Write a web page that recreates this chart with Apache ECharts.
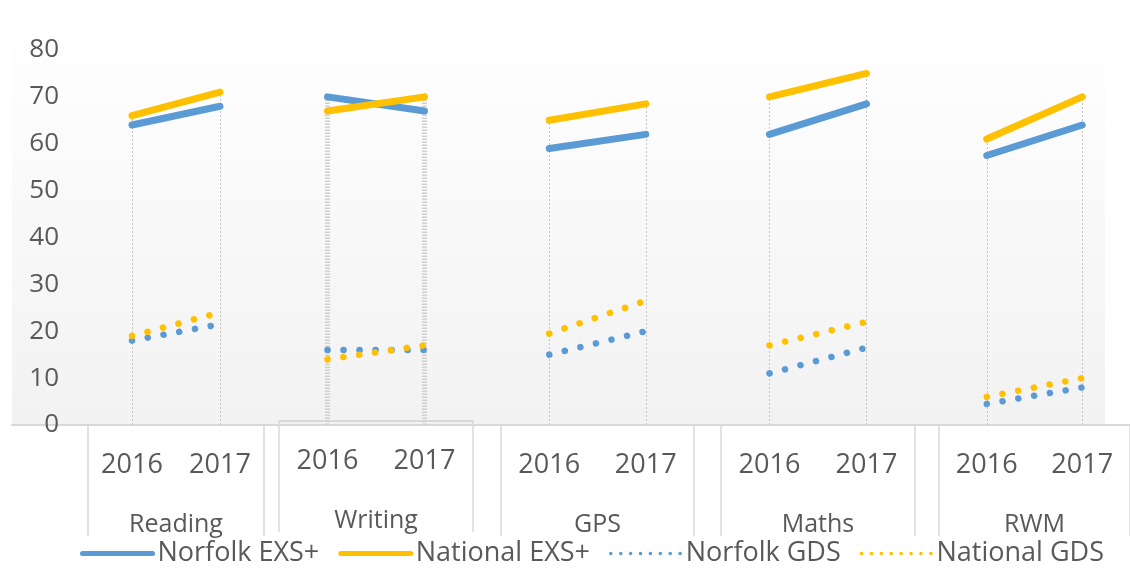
<!DOCTYPE html>
<html>
<head>
<meta charset="utf-8">
<style>
  html, body { margin: 0; padding: 0; background: #fff; }
  #main { width: 1130px; height: 568px; }
</style>
<script src="https://cdn.jsdelivr.net/npm/echarts@6/dist/echarts.min.js"></script>
</head>
<body>
<div id="main"></div>
<script>
// data
const subjects = ['Reading', 'Writing', 'GPS', 'Maths', 'RWM'];
const years = ['2016', '2017'];
const norfolkExs = [[64, 68], [70, 67], [59, 62], [62, 68.5], [57.5, 64]];
const nationalExs = [[66, 71], [67, 70], [65, 68.5], [70, 75], [61, 70]];
const norfolkGds = [[18, 21.5], [16, 16], [15, 20], [11, 16.5], [4.5, 8]];
const nationalGds = [[19, 24], [14, 17], [19.5, 26.5], [17, 22], [6, 10]];
const yMin = 0, yMax = 80, yStep = 10;

// layout of the five category boxes
const boxLeft = [88, 279, 501, 721, 939];
const boxWidth = [176, 194, 193, 194, 194];
const boxShift = [0, -4, 0, 0, 0];

const FONT = 'Open Sans';
const TEXT = '#595959';
const BLUE = '#5B9BD5';
const GOLD = '#FFC000';

const seriesDefs = [
  { name: 'Norfolk EXS+', values: norfolkExs, color: BLUE, dotted: false },
  { name: 'National EXS+', values: nationalExs, color: GOLD, dotted: false },
  { name: 'Norfolk GDS', values: norfolkGds, color: BLUE, dotted: true },
  { name: 'National GDS', values: nationalGds, color: GOLD, dotted: true }
];

const grids = [], xAxes = [], yAxes = [], series = [];

subjects.forEach((subject, g) => {
  grids.push({ left: boxLeft[g], width: boxWidth[g], top: 50, bottom: 143 });

  // year labels
  xAxes.push({
    type: 'category', gridIndex: g, position: 'bottom', data: years,
    boundaryGap: true, offset: boxShift[g],
    axisLine: { show: false }, axisTick: { show: false },
    axisLabel: { margin: 27, fontSize: 27, color: TEXT, fontFamily: FONT }
  });
  // subject label + box sides
  xAxes.push({
    type: 'category', gridIndex: g, position: 'bottom', data: [subject],
    boundaryGap: true, offset: boxShift[g],
    axisLine: { show: boxShift[g] !== 0, lineStyle: { color: '#d9d9d9', width: 2 } },
    axisTick: { show: true, length: 111, lineStyle: { color: '#d9d9d9', width: 1.5 } },
    axisLabel: { margin: 87, fontSize: 25, color: TEXT, fontFamily: FONT }
  });

  yAxes.push({
    type: 'value', gridIndex: g, min: yMin, max: yMax, interval: yStep,
    axisLine: { show: false }, axisTick: { show: false }, splitLine: { show: false },
    axisLabel: { show: g === 0, margin: 29, fontSize: 26, color: TEXT, fontFamily: FONT }
  });

  // drop lines from the highest value to the axis
  const drops = years.map((y, i) => {
    const top = Math.max(norfolkExs[g][i], nationalExs[g][i], norfolkGds[g][i], nationalGds[g][i]);
    return [{ coord: [y, yMin] }, { coord: [y, top] }];
  });
  const dropStyle = g === 1
    ? { color: '#cfcfcf', width: 5, type: [1.5, 1.5] }
    : { color: '#c4c4c4', width: 1, type: [2, 2] };

  seriesDefs.forEach((d, k) => {
    const s = {
      type: 'line', name: d.name, xAxisIndex: 2 * g, yAxisIndex: g,
      data: d.values[g], symbol: 'none', showSymbol: false, z: 3,
      itemStyle: { color: d.color },
      lineStyle: d.dotted
        ? { color: d.color, width: 6.5, type: [0.1, 15.9], cap: 'round' }
        : { color: d.color, width: 7, cap: 'round' },
      emphasis: { disabled: true }
    };
    if (k === 0) {
      s.markLine = {
        symbol: 'none', silent: true, z: 1, animation: false,
        label: { show: false }, lineStyle: dropStyle, data: drops
      };
    }
    series.push(s);
  });
});

// plot background
grids.push({
  left: 12, right: 25, top: 20, bottom: 143, show: true, borderWidth: 0,
  backgroundColor: new echarts.graphic.LinearGradient(0, 0, 0, 1, [
    { offset: 0, color: '#ffffff' },
    { offset: 1, color: '#f2f2f2' }
  ])
});
xAxes.push({ type: 'value', gridIndex: 5, show: false });
yAxes.push({ type: 'value', gridIndex: 5, show: false });

// horizontal axis line
grids.push({ left: 12, right: 0, top: 50, bottom: 143 });
xAxes.push({
  type: 'value', gridIndex: 6, min: 0, max: 1,
  axisLine: { show: true, lineStyle: { color: '#d9d9d9', width: 2 } },
  axisTick: { show: false }, axisLabel: { show: false }, splitLine: { show: false }
});
yAxes.push({ type: 'value', gridIndex: 6, min: 0, max: 1, show: false });

const chart = echarts.init(document.getElementById('main'));
chart.setOption({
  animation: false,
  grid: grids,
  xAxis: xAxes,
  yAxis: yAxes,
  legend: {
    left: 80, top: 540, padding: 0,
    itemWidth: 70, itemHeight: 14, itemGap: 19,
    textStyle: { fontSize: 27, color: TEXT, fontFamily: FONT },
    data: seriesDefs.map(d => ({
      name: d.name,
      itemStyle: { color: 'rgba(0,0,0,0)', borderWidth: 0 },
      lineStyle: d.dotted
        ? { width: 3.5, type: [0.1, 9.8], cap: 'round' }
        : { width: 5, type: 'solid', cap: 'round' }
    }))
  },
  series: series
});
</script>
</body>
</html>
